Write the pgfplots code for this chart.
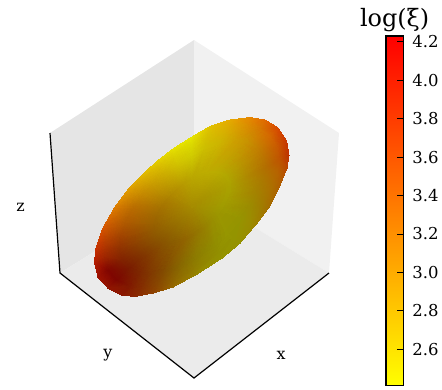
\documentclass[border=0pt]{standalone}
\usepackage{fontspec}
\setmainfont{DejaVu Serif}
\usepackage{pgfplots}
\usepackage{pgfplotstable}
\pgfplotsset{compat=1.18}
\pgfplotstableread{
x y z c
289 155 0 rgb255=190,50,0
287 168 0 rgb255=185,72,0
280 185 0 rgb255=175,95,0
269 207 0 rgb255=165,110,0
257 223 0 rgb255=158,130,0
240 243 0 rgb255=148,146,0
222 258 0 rgb255=148,146,0
198 273.5 0 rgb255=150,135,0
173 287 0 rgb255=150,105,0
153 293 0 rgb255=142,65,0
135 296.5 0 rgb255=138,38,0
122 295 0 rgb255=138,22,0
108 288 0 rgb255=145,20,0
98 277 0 rgb255=158,18,0
94.5 262 0 rgb255=180,28,0
96 248 0 rgb255=200,50,0
103 228 0 rgb255=215,85,0
115 207 0 rgb255=222,125,0
127 191 0 rgb255=225,155,0
140 177 0 rgb255=225,180,0
157 161.5 0 rgb255=228,205,0
173 149 0 rgb255=230,225,0
192 137 0 rgb255=230,230,0
210 126.5 0 rgb255=225,195,0
230 120 0 rgb255=230,170,0
250 117.5 0 rgb255=230,135,0
265 120 0 rgb255=225,105,0
278 128 0 rgb255=215,72,0
286.5 141 0 rgb255=200,55,0
289 155 0 rgb255=190,50,0
279.3 160.2 0 rgb255=190,85,0
277.5 171.9 0 rgb255=182,100,0
271.2 187.2 0 rgb255=172,112,0
261.3 207 0 rgb255=160,125,0
250.5 221.4 0 rgb255=155,140,0
235.2 239.4 0 rgb255=148,148,0
219 252.9 0 rgb255=146,143,0
197.4 266.9 0 rgb255=145,128,0
174.9 279 0 rgb255=142,102,0
156.9 284.4 0 rgb255=136,70,0
140.7 287.55 0 rgb255=132,45,0
129 286.2 0 rgb255=128,25,0
116.4 279.9 0 rgb255=125,6,0
107.4 270 0 rgb255=130,6,0
104.25 256.5 0 rgb255=160,38,0
105.6 243.9 0 rgb255=178,58,0
111.9 225.9 0 rgb255=195,88,0
122.7 207 0 rgb255=205,118,0
133.5 192.6 0 rgb255=210,145,0
145.2 180 0 rgb255=214,168,0
160.5 166.05 0 rgb255=218,190,0
174.9 154.8 0 rgb255=220,210,0
192 144 0 rgb255=220,218,0
208.2 134.55 0 rgb255=215,192,0
226.2 128.7 0 rgb255=218,175,0
244.2 126.45 0 rgb255=218,148,0
257.7 128.7 0 rgb255=213,125,0
269.4 135.9 0 rgb255=212,105,0
277.05 147.6 0 rgb255=200,90,0
279.3 160.2 0 rgb255=190,85,0
264.75 168 0 rgb255=178,112,0
263.25 177.75 0 rgb255=172,120,0
258 190.5 0 rgb255=165,128,0
249.75 207 0 rgb255=155,140,0
240.75 219 0 rgb255=150,148,0
228 234 0 rgb255=150,150,0
214.5 245.25 0 rgb255=145,140,0
194.25 258.75 0 rgb255=140,122,0
177.75 267 0 rgb255=135,100,0
162.75 271.5 0 rgb255=130,75,0
149.25 274.1 0 rgb255=128,55,0
139.5 273 0 rgb255=125,40,0
129 267.75 0 rgb255=122,28,0
121.5 259.5 0 rgb255=130,35,0
118.9 248.25 0 rgb255=145,50,0
120 237.75 0 rgb255=160,65,0
125.25 222.75 0 rgb255=175,90,0
134.25 207 0 rgb255=185,110,0
143.25 195 0 rgb255=195,135,0
153 184.5 0 rgb255=200,155,0
165.75 172.9 0 rgb255=205,175,0
177.75 163.5 0 rgb255=210,195,0
192 154.5 0 rgb255=210,205,0
205.5 146.6 0 rgb255=205,190,0
220.5 141.75 0 rgb255=205,180,0
235.5 139.9 0 rgb255=205,160,0
246.75 141.75 0 rgb255=200,148,0
256.5 147.75 0 rgb255=195,130,0
262.9 157.5 0 rgb255=186,118,0
264.75 168 0 rgb255=178,112,0
230.8 186.2 0 rgb255=170,160,0
230 191.4 0 rgb255=168,160,0
227.2 198.2 0 rgb255=165,158,0
222.8 207 0 rgb255=160,155,0
218 213.4 0 rgb255=157,150,0
211.2 221.4 0 rgb255=153,140,0
203.2 229 0 rgb255=150,125,0
193.2 234.6 0 rgb255=147,112,0
184.4 239 0 rgb255=145,100,0
176.4 241.4 0 rgb255=140,95,0
169.2 242.8 0 rgb255=137,90,0
164 242.2 0 rgb255=137,85,0
158.4 239.4 0 rgb255=138,85,0
154.4 235 0 rgb255=142,88,0
153 229 0 rgb255=147,92,0
153.6 223.4 0 rgb255=152,98,0
156.4 215.4 0 rgb255=158,105,0
161.2 207 0 rgb255=165,115,0
166 200.6 0 rgb255=170,125,0
171.2 195 0 rgb255=175,135,0
178 188.8 0 rgb255=180,145,0
184.4 183.8 0 rgb255=183,155,0
192 179 0 rgb255=185,165,0
199.2 174.8 0 rgb255=187,170,0
207.2 172.2 0 rgb255=188,172,0
215.2 171.2 0 rgb255=187,172,0
221.2 172.2 0 rgb255=183,170,0
226.4 175.4 0 rgb255=178,167,0
229.8 180.6 0 rgb255=174,163,0
230.8 186.2 0 rgb255=170,160,0
192 207 0 rgb255=165,138,0
192 207 0 rgb255=165,138,0
192 207 0 rgb255=165,138,0
192 207 0 rgb255=165,138,0
192 207 0 rgb255=165,138,0
192 207 0 rgb255=165,138,0
192 207 0 rgb255=165,138,0
192 207 0 rgb255=165,138,0
192 207 0 rgb255=165,138,0
192 207 0 rgb255=165,138,0
192 207 0 rgb255=165,138,0
192 207 0 rgb255=165,138,0
192 207 0 rgb255=165,138,0
192 207 0 rgb255=165,138,0
192 207 0 rgb255=165,138,0
192 207 0 rgb255=165,138,0
192 207 0 rgb255=165,138,0
192 207 0 rgb255=165,138,0
192 207 0 rgb255=165,138,0
192 207 0 rgb255=165,138,0
192 207 0 rgb255=165,138,0
192 207 0 rgb255=165,138,0
192 207 0 rgb255=165,138,0
192 207 0 rgb255=165,138,0
192 207 0 rgb255=165,138,0
192 207 0 rgb255=165,138,0
192 207 0 rgb255=165,138,0
192 207 0 rgb255=165,138,0
192 207 0 rgb255=165,138,0
192 207 0 rgb255=165,138,0
}\ellipsoid
\definecolor{paneL}{gray}{0.898}
\definecolor{paneR}{gray}{0.945}
\definecolor{paneF}{gray}{0.922}
\begin{document}
\begin{tikzpicture}[x=1bp,y=1bp]
\path[use as bounding box] (0,0) rectangle (442,389);
\begin{axis}[
  at={(0bp,0bp)},anchor=south west,
  width=442bp,height=389bp,scale only axis,
  hide axis,view={0}{90},
  xmin=0,xmax=442,ymin=0,ymax=389,zmin=-1,zmax=1,
  y dir=reverse,clip=false,
]
\addplot3[fill=paneL,draw=none] coordinates {(50,133,0) (194,40,0) (194,190,0) (60,273,0) (50,133,0)};
\addplot3[fill=paneR,draw=none] coordinates {(194,40,0) (339,133,0) (329,273,0) (194,190,0) (194,40,0)};
\addplot3[fill=paneF,draw=none] coordinates {(60,273,0) (194,190,0) (329,273,0) (194,378,0) (60,273,0)};
\addplot3[black,line width=1.2bp] coordinates {(50,133,0) (60,273,0) (194,378,0) (329,273,0)};
\addplot3[surf,shader=interp,mesh/rows=5,mesh/cols=30,mesh/color input=explicit]
  table[x=x,y=y,z=z,meta=c] {\ellipsoid};
\node[font=\fontsize{16}{18}\selectfont] at (axis cs:20.5,207,0) {z};
\node[font=\fontsize{16}{18}\selectfont] at (axis cs:108,355,0) {y};
\node[font=\fontsize{16}{18}\selectfont] at (axis cs:281,355,0) {x};
\end{axis}
\begin{axis}[
  at={(386bp,3.3bp)},anchor=south west,
  width=17.3bp,height=349.7bp,scale only axis,
  axis on top,
  xmin=0,xmax=1,ymin=2.41,ymax=4.23,
  colormap={yr}{rgb255=(255,255,0) rgb255=(255,0,0)},
  point meta min=2.41,point meta max=4.23,
  xtick=\empty,
  ytick={2.6,2.8,3.0,3.2,3.4,3.6,3.8,4.0,4.2},
  yticklabels={2.6,2.8,3.0,3.2,3.4,3.6,3.8,4.0,4.2},
  ytick pos=right,yticklabel pos=right,
  tick align=inside,
  major tick length=6bp,
  axis line style={line width=1.2bp,black},
  tick style={line width=0.8bp,black},
  tick label style={font=\fontsize{16.5}{18}\selectfont},
  yticklabel style={xshift=5.5bp},
  title={log(ξ)},
  title style={font=\fontsize{24}{26}\selectfont,at={(axis description cs:0.5,1)},anchor=south,yshift=-5bp},
]
\addplot[patch,patch type=rectangle,shader=interp,point meta=y]
  coordinates {(0,2.41) (1,2.41) (1,4.23) (0,4.23)};
\end{axis}
\end{tikzpicture}
\end{document}
